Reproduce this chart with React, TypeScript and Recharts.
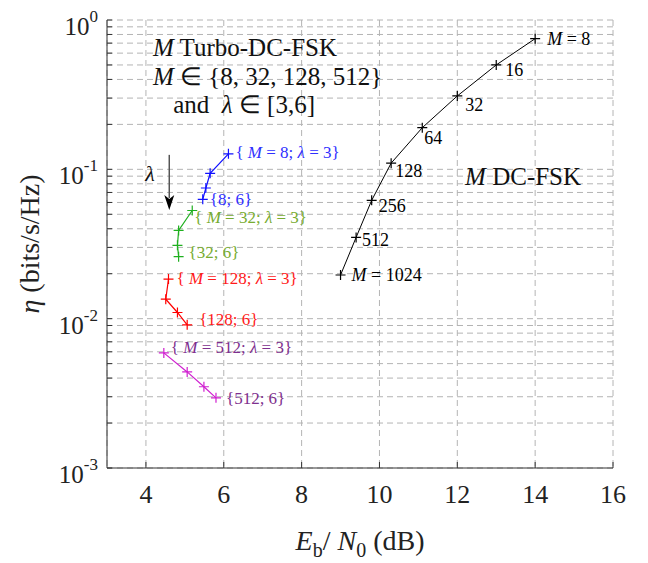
import React from "react";
import {
  LineChart,
  Line,
  XAxis,
  YAxis,
  CartesianGrid,
  LabelList,
  ReferenceDot,
  ReferenceLine,
} from "recharts";

const SERIF = "Liberation Serif, Times New Roman, Times, serif";

const xTicks = [4, 6, 8, 10, 12, 14, 16];
const yMajor = [0.001, 0.01, 0.1, 1];
const yTicks = [
  0.001, 0.002, 0.003, 0.004, 0.005, 0.006, 0.007, 0.008, 0.009,
  0.01, 0.02, 0.03, 0.04, 0.05, 0.06, 0.07, 0.08, 0.09,
  0.1, 0.2, 0.3, 0.4, 0.5, 0.6, 0.7, 0.8, 0.9, 1,
];

// M DC-FSK
const dcEb = [14, 13, 12, 11.1, 10.3, 9.8, 9.4, 9.0];
const dcEta = [0.75, 0.5, 0.31, 0.19, 0.11, 0.062, 0.035, 0.0196];
const dcLabels = ["M = 8", "16", "32", "64", "128", "256", "512", "M = 1024"];

// M Turbo-DC-FSK, lambda = 3..6
const t8Eb = [6.12, 5.65, 5.54, 5.46];
const t8Eta = [0.127, 0.094, 0.075, 0.063];
const t8Labels = ["{ M = 8; λ = 3}", "", "", "{8; 6}"];

const t32Eb = [5.19, 4.84, 4.81, 4.84];
const t32Eta = [0.053, 0.039, 0.031, 0.026];
const t32Labels = ["{ M = 32; λ = 3}", "", "", "{32; 6}"];

const t128Eb = [4.58, 4.51, 4.81, 5.06];
const t128Eta = [0.0184, 0.0135, 0.011, 0.0091];
const t128Labels = ["{ M = 128; λ = 3}", "", "", "{128; 6}"];

const t512Eb = [4.46, 5.06, 5.49, 5.8];
const t512Eta = [0.0059, 0.0044, 0.0035, 0.00295];
const t512Labels = ["{ M = 512; λ = 3}", "", "", "{512; 6}"];

const rows = (eb: number[], eta: number[], labels: string[]) =>
  eb.map((x, i) => ({ eb: x, eta: eta[i], label: labels[i] }));

function rich(s: string) {
  return s.split(/(M|λ)/).map((part, i) =>
    part === "M" || part === "λ" ? (
      <tspan key={i} fontStyle="italic">{part}</tspan>
    ) : (
      <tspan key={i}>{part}</tspan>
    )
  );
}

const series = [
  { key: "dc", data: rows(dcEb, dcEta, dcLabels), stroke: "#000", text: "#000", size: 18, width: 1,
    offsets: [[12, 0], [9, 5], [8, 9], [2, 10], [4, 8], [7, 5], [6, 2], [11, 0]] },
  { key: "t8", data: rows(t8Eb, t8Eta, t8Labels), stroke: "#1010ff", text: "#3030ff", size: 17, width: 1.2,
    offsets: [[7, -2], [0, 0], [0, 0], [7, 0]] },
  { key: "t32", data: rows(t32Eb, t32Eta, t32Labels), stroke: "#1fb01f", text: "#77ac30", size: 17, width: 1.2,
    offsets: [[2, 7], [0, 0], [0, 0], [10, -5]] },
  { key: "t128", data: rows(t128Eb, t128Eta, t128Labels), stroke: "#ff0000", text: "#ff1a1a", size: 17, width: 1.2,
    offsets: [[8, -1], [0, 0], [0, 0], [12, -6]] },
  { key: "t512", data: rows(t512Eb, t512Eta, t512Labels), stroke: "#d020d0", text: "#7e2f8e", size: 17, width: 1.2,
    offsets: [[7, -6], [0, 0], [0, 0], [10, 0]] },
];

const notes = [
  { x: 4.18, y: 0.662, text: "M Turbo-DC-FSK", size: 25 },
  { x: 4.18, y: 0.417, text: "M ∈ {8, 32, 128, 512}", size: 25 },
  { x: 4.7, y: 0.274, text: "and  λ ∈ [3,6]", size: 25 },
  { x: 3.98, y: 0.0944, text: "λ", size: 22 },
  { x: 12.2, y: 0.0892, text: "M DC-FSK", size: 25 },
];

const AXIS = "#333";

function LeftTick(p: any) {
  const { x, y, payload } = p;
  const v = payload.value;
  const major = yMajor.some((m) => Math.abs(m - v) < 1e-12);
  return (
    <g>
      <line x1={x} y1={y} x2={x + 5} y2={y} stroke={AXIS} />
      {major && (
        <text x={x - 9} y={y + 15} textAnchor="end" fontSize={25} fill="#222" style={{ fontFamily: SERIF }}>
          10
          <tspan dy={-13} fontSize={17}>{String(Math.round(Math.log10(v)))}</tspan>
        </text>
      )}
    </g>
  );
}

function RightTick(p: any) {
  const { x, y } = p;
  return <line x1={x - 5} y1={y} x2={x} y2={y} stroke={AXIS} />;
}

function BottomTick(p: any) {
  const { x, y, payload } = p;
  return (
    <g>
      <line x1={x} y1={y} x2={x} y2={y - 6} stroke={AXIS} />
      <text x={x} y={y + 35} textAnchor="middle" fontSize={26} fill="#222" style={{ fontFamily: SERIF }}>
        {payload.value}
      </text>
    </g>
  );
}

function TopTick(p: any) {
  const { x, y } = p;
  return <line x1={x} y1={y} x2={x} y2={y + 6} stroke={AXIS} />;
}

function Arrow(p: any) {
  const { x1, y1, x2, y2 } = p;
  return (
    <g>
      <line x1={x1} y1={y1} x2={x2} y2={y2 - 12} stroke="#555" strokeWidth={1.5} />
      <path d={`M${x2 - 5},${y2 - 15} L${x2},${y2} L${x2 + 5},${y2 - 15} L${x2},${y2 - 11} Z`} fill="#000" />
    </g>
  );
}

export default function App() {
  return (
    <div style={{ position: "absolute", left: 0, top: 0, background: "#fff", fontFamily: SERIF }}>
      <LineChart
        width={648}
        height={563}
        margin={{ top: 20, right: 35, left: 0, bottom: 0 }}
      >
        <CartesianGrid stroke="#b4b4b4" strokeDasharray="6 4" />
        <XAxis
          dataKey="eb"
          type="number"
          domain={[3, 16]}
          ticks={xTicks}
          allowDataOverflow
          height={95}
          tickSize={0}
          tickMargin={0}
          tickLine={false}
          tick={<BottomTick />}
          axisLine={{ stroke: AXIS }}
          label={{
            content: (p: any) => {
              const vb = p.viewBox;
              return (
                <text x={vb.x + vb.width / 2} y={vb.y + 82} textAnchor="middle" fontSize={28} fill="#222" style={{ fontFamily: SERIF }}>
                  <tspan fontStyle="italic">E</tspan>
                  <tspan fontSize={20} dy={7}>b</tspan>
                  <tspan dy={-7}>/ </tspan>
                  <tspan fontStyle="italic">N</tspan>
                  <tspan fontSize={20} dy={7}>0</tspan>
                  <tspan dy={-7}> (dB)</tspan>
                </text>
              );
            },
          }}
        />
        <XAxis
          xAxisId="top"
          orientation="top"
          type="number"
          domain={[3, 16]}
          ticks={xTicks}
          allowDataOverflow
          height={0}
          tickSize={0}
          tickMargin={0}
          tickLine={false}
          tick={<TopTick />}
          axisLine={{ stroke: AXIS }}
        />
        <YAxis
          scale="log"
          domain={[0.001, 1]}
          ticks={yTicks}
          allowDataOverflow
          width={107}
          tickSize={0}
          tickMargin={0}
          tickLine={false}
          tick={<LeftTick />}
          interval={0}
          axisLine={{ stroke: AXIS }}
          label={{
            content: (p: any) => {
              const vb = p.viewBox;
              const cx = 29;
              const cy = vb.y + vb.height / 2;
              return (
                <text x={cx} y={cy} transform={`rotate(-90 ${cx} ${cy})`} textAnchor="middle" dominantBaseline="central" fontSize={28} fill="#222" style={{ fontFamily: SERIF }}>
                  <tspan fontStyle="italic">η</tspan>
                  <tspan> (bits/s/Hz)</tspan>
                </text>
              );
            },
          }}
        />
        <YAxis
          yAxisId="r"
          orientation="right"
          scale="log"
          domain={[0.001, 1]}
          ticks={yTicks}
          allowDataOverflow
          width={0}
          tickSize={0}
          tickMargin={0}
          tickLine={false}
          tick={<RightTick />}
          interval={0}
          axisLine={{ stroke: AXIS }}
        />

        {series.map((s) => (
          <Line
            key={s.key}
            data={s.data}
            dataKey="eta"
            stroke={s.stroke}
            strokeWidth={s.width}
            isAnimationActive={false}
            dot={(d: any) => (
              <path
                key={`${s.key}-${d.index}`}
                d={`M${d.cx - 5},${d.cy}h10M${d.cx},${d.cy - 5}v10`}
                stroke={s.stroke}
                strokeWidth={1.2}
                fill="none"
              />
            )}
            activeDot={false}
          >
            <LabelList
              dataKey="label"
              content={(l: any) => {
                if (!l.value) return null;
                const [dx, dy] = s.offsets[l.index] || [0, 0];
                return (
                  <text
                    x={l.x + dx}
                    y={l.y + dy + s.size * 0.35}
                    fontSize={s.size}
                    fill={s.text}
                    style={{ whiteSpace: "pre", fontFamily: SERIF }}
                  >
                    {rich(l.value)}
                  </text>
                );
              }}
            />
          </Line>
        ))}

        <ReferenceLine
          segment={[{ x: 4.6, y: 0.125 }, { x: 4.6, y: 0.0534 }]}
          shape={(p: any) => <Arrow {...p} />}
        />

        {notes.map((n, i) => (
          <ReferenceDot
            key={i}
            x={n.x}
            y={n.y}
            r={1}
            shape={(p: any) => (
              <text
                x={p.cx}
                y={p.cy + n.size * 0.35}
                fontSize={n.size}
                fill="#111"
                style={{ whiteSpace: "pre", fontFamily: SERIF }}
              >
                {rich(n.text)}
              </text>
            )}
          />
        ))}
      </LineChart>
    </div>
  );
}
